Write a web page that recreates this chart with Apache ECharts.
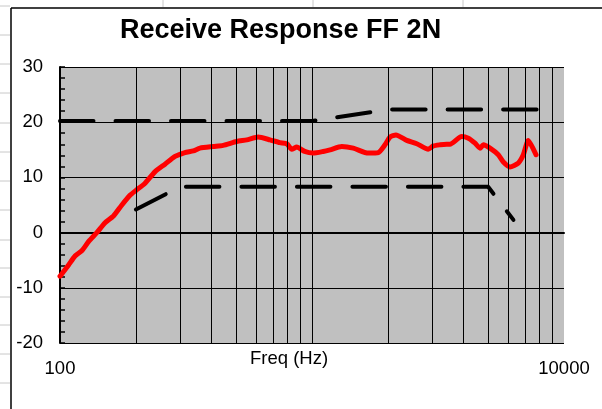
<!DOCTYPE html>
<html>
<head>
<meta charset="utf-8">
<script src="https://cdn.jsdelivr.net/npm/echarts@6/dist/echarts.min.js"></script>
<style>
html,body{margin:0;padding:0;background:#fff;}
#c{width:602px;height:409px;}
</style>
</head>
<body>
<div id="c"></div>
<script>
// Measured response (Hz, dB)
const respFreq = [100,108,115,122,130,140,151,163,176,190,201,217,238,261,286,313,338,359,406,444,502,551,612,681,745,794,831,870,935,1010,1108,1179,1312,1458,1671,1833,1948,2039,2154,2377,2604,2894,3030,3219,3423,3529,3926,4173,4436,4642,4786,5085,5486,5745,6106,6586,6896,7215,7745];
const respDb   = [-7.9,-5.9,-4.2,-3.3,-1.6,0.0,1.8,3.0,5.0,6.8,7.7,8.9,11.0,12.4,13.8,14.5,14.8,15.3,15.6,15.8,16.5,16.8,17.3,16.8,16.3,16.1,15.1,15.5,14.7,14.4,14.7,15.0,15.6,15.3,14.4,14.5,15.9,17.3,17.7,16.7,16.1,15.1,15.7,15.9,16.0,16.0,17.4,17.1,16.2,15.3,15.9,15.3,14.1,12.8,11.9,12.6,14.1,16.7,14.1];
// Upper mask
const upperFreq = [100,1000,2000,8000];
const upperDb   = [20.2,20.2,22.3,22.3];
// Lower mask
const lowerFreq = [200,300,5000,6300];
const lowerDb   = [4.2,8.3,8.3,2.3];
// Log grid lines between decades
const minorFreqs = [200,300,400,500,600,700,800,900,2000,3000,4000,5000,6000,7000,8000,9000];
// Axis labels shown
const xLabels = [100,10000];

const zip = (a,b)=>a.map((v,i)=>[v,b[i]]);
const FONT = 'Liberation Sans, Arial, sans-serif';

// Spreadsheet decoration
const gfx = [];
const rowYs = [6,35,64,93,123,152,181,210,240,268,297,325,354,383];
rowYs.forEach(y=>gfx.push({type:'line',shape:{x1:0,y1:y,x2:10,y2:y},style:{stroke:'#c8c8c8',lineWidth:1},silent:true}));
[163,313,463].forEach(x=>gfx.push({type:'line',shape:{x1:x,y1:0,x2:x,y2:7},style:{stroke:'#c8c8c8',lineWidth:1},silent:true}));
gfx.push({type:'line',shape:{x1:11,y1:8,x2:602,y2:8},style:{stroke:'#000',lineWidth:1.5},silent:true});
gfx.push({type:'line',shape:{x1:11,y1:8,x2:11,y2:409},style:{stroke:'#000',lineWidth:1.5},silent:true});
gfx.push({type:'text',left:250,top:349,style:{text:'Freq (Hz)',font:'18.5px '+FONT,fill:'#000'},silent:true});

const chart = echarts.init(document.getElementById('c'), null, {renderer:'canvas'});
const dash = {color:'#000',width:4,type:[33.5,22],cap:'round',join:'round'};
chart.setOption({
  animation:false,
  backgroundColor:'#fff',
  title:{text:'Receive Response FF 2N',left:120,top:17,padding:0,
    textStyle:{fontSize:27,fontWeight:'bold',fontFamily:FONT,color:'#000'}},
  graphic:gfx,
  grid:{left:60,right:38,top:67,bottom:66,show:true,backgroundColor:'#C0C0C0',borderWidth:0},
  xAxis:{type:'log',logBase:10,min:100,max:10000,
    axisLine:{show:true,lineStyle:{color:'#000',width:2}},
    axisTick:{show:false},
    splitLine:{show:true,showMaxLine:false,lineStyle:{color:'#000',width:1}},
    axisLabel:{margin:16,fontSize:18.5,fontFamily:FONT,color:'#000',
      formatter:v=>xLabels.includes(Math.round(v))?String(Math.round(v)):''}},
  yAxis:{type:'value',min:-20,max:30,interval:10,
    axisLine:{show:true,lineStyle:{color:'#000',width:2}},
    axisTick:{show:true,inside:true,length:5,lineStyle:{color:'#000',width:1.5}},
    minorTick:{show:true,splitNumber:5,length:5,lineStyle:{color:'#000',width:1.5}},
    splitLine:{show:true,lineStyle:{color:'#000',width:1}},
    axisLabel:{margin:17,fontSize:18.5,fontFamily:FONT,color:'#000'}},
  series:[
    {type:'line',data:[],silent:true,z:1,
      markLine:{silent:true,symbol:['none','none'],label:{show:false},
        lineStyle:{color:'#000',width:1,type:'solid'},
        data:minorFreqs.map(f=>({xAxis:f}))}},
    {type:'line',data:zip(upperFreq,upperDb),showSymbol:false,lineStyle:dash,z:3},
    {type:'line',data:zip(lowerFreq,lowerDb),showSymbol:false,lineStyle:dash,z:3},
    {type:'line',data:zip(respFreq,respDb),showSymbol:false,smooth:0.2,
      lineStyle:{color:'#FF0000',width:5,cap:'round',join:'round'},z:4}
  ]
});
</script>
</body>
</html>
